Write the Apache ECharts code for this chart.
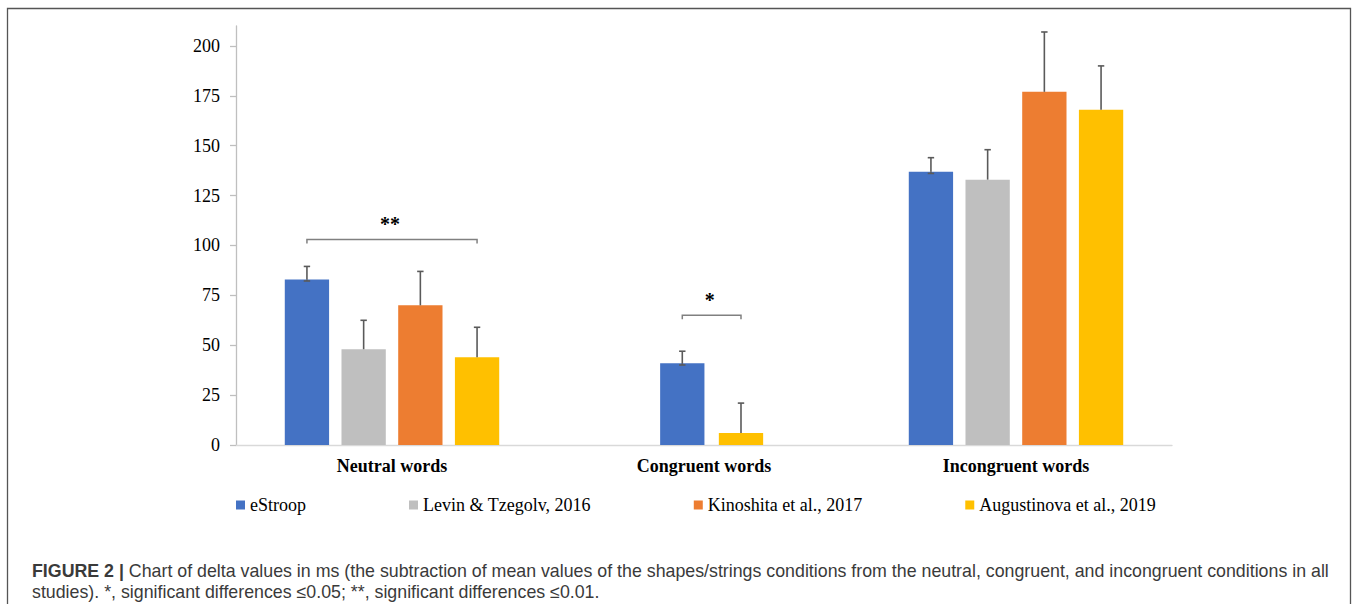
<!DOCTYPE html>
<html>
<head>
<meta charset="utf-8">
<title>Delta values by condition</title>
<script src="https://cdn.jsdelivr.net/npm/echarts@6/dist/echarts.min.js"></script>
<style>
  html, body { margin: 0; padding: 0; background: #ffffff; }
  #chart { width: 1358px; height: 604px; }
</style>
</head>
<body>
<div id="chart"></div>
<script>
// Conditions on the x axis
const categories = ['Neutral words', 'Congruent words', 'Incongruent words'];
// Studies (one series each)
const studies = ['eStroop', 'Levin & Tzegolv, 2016', 'Kinoshita et al., 2017', 'Augustinova et al., 2019'];

// Delta values in ms (null = condition not reported)
const eStroop     = [83, 41, 137];
const levin       = [48, null, 133];
const kinoshita   = [70, null, 177];
const augustinova = [44, 6, 168];

// Upper error bars
const eStroopErr     = [6.5, 6, 7];
const levinErr       = [14.5, null, 15];
const kinoshitaErr   = [17, null, 30];
const augustinovaErr = [15, 15, 22];

// Lower error bars (only the eStroop bars show one)
const eStroopErrLow = [0.8, 0.9, 0.9];

// Value axis
const yTicks = [0, 25, 50, 75, 100, 125, 150, 175, 200];
const yMax = 210;

// Significance brackets: condition index, first/last study, height (ms), label
const sigCategory = [0, 1];
const sigFrom     = [0, 0];
const sigTo       = [3, 3];
const sigLevel    = [103, 65];
const sigLabel    = ['**', '*'];

const captionLine1 = 'Chart of delta values in ms (the subtraction of mean values of the shapes/strings conditions from the neutral, congruent, and incongruent conditions in all';
const captionLine2 = 'studies). *, significant differences \u22640.05; **, significant differences \u22640.01.';

const values  = [eStroop, levin, kinoshita, augustinova];
const errHigh = [eStroopErr, levinErr, kinoshitaErr, augustinovaErr];
const errLow  = [eStroopErrLow, null, null, null];
const colors  = ['#4472C4', '#BFBFBF', '#ED7D31', '#FFC000'];

const SERIF = "'Liberation Serif', 'Times New Roman', serif";
const SANS = "'Liberation Sans', Arial, Helvetica, sans-serif";
const ERR_COLOR = '#5a5a5a';
const CAPTION_FONT = 17.8;

// Horizontal placement of a study's bar inside a condition band.
// Bars of the studies that report the condition are packed side by side.
function slot(api, cat, s) {
  const present = [];
  values.forEach((v, i) => { if (v[cat] != null) present.push(i); });
  const n = present.length;
  const band = api.size([1, 0])[0];
  const barW = band * 0.142;
  let step = barW * 1.28;
  let shift = 0;
  if (n < values.length) { step = barW * 1.325; shift = band * 0.0245; }
  const k = present.indexOf(s);
  const cx = api.coord([cat, 0])[0];
  return { x: cx + (k - (n - 1) / 2) * step + shift, w: barW };
}

function barSeries(s) {
  const data = [];
  categories.forEach((c, i) => {
    const v = values[s][i];
    if (v == null) return;
    const eh = errHigh[s][i] || 0;
    const el = errLow[s] ? (errLow[s][i] || 0) : 0;
    data.push([i, v, eh, el]);
  });
  return {
    type: 'custom',
    name: studies[s],
    coordinateSystem: 'cartesian2d',
    itemStyle: { color: colors[s] },
    encode: { x: 0, y: 1 },
    data: data,
    z: 2,
    renderItem: function (params, api) {
      const cat = api.value(0);
      const v = api.value(1);
      const eh = api.value(2);
      const el = api.value(3);
      const p = slot(api, cat, s);
      const top = api.coord([cat, v])[1];
      const base = api.coord([cat, 0])[1];
      const children = [{
        type: 'rect',
        shape: { x: p.x - p.w / 2, y: top, width: p.w, height: base - top },
        style: { fill: colors[s] }
      }];
      const errStyle = { stroke: ERR_COLOR, lineWidth: 1.6 };
      if (eh > 0) {
        const hi = api.coord([cat, v + eh])[1];
        children.push({ type: 'line', shape: { x1: p.x, y1: top, x2: p.x, y2: hi }, style: errStyle });
        children.push({ type: 'line', shape: { x1: p.x - 3.2, y1: hi, x2: p.x + 3.2, y2: hi }, style: errStyle });
      }
      if (el > 0) {
        const lo = api.coord([cat, v - el])[1];
        children.push({ type: 'line', shape: { x1: p.x, y1: top, x2: p.x, y2: lo }, style: errStyle });
        children.push({ type: 'line', shape: { x1: p.x - 3.2, y1: lo, x2: p.x + 3.2, y2: lo }, style: errStyle });
      }
      return { type: 'group', children: children };
    }
  };
}

const bracketSeries = {
  type: 'custom',
  name: 'significance',
  coordinateSystem: 'cartesian2d',
  encode: { x: 0, y: 1 },
  data: sigCategory.map((c, j) => [c, sigLevel[j], sigFrom[j], sigTo[j], j]),
  z: 3,
  silent: true,
  renderItem: function (params, api) {
    const cat = api.value(0);
    const level = api.value(1);
    const a = slot(api, cat, api.value(2)).x;
    const b = slot(api, cat, api.value(3)).x;
    const y = api.coord([cat, level])[1];
    const label = sigLabel[api.value(4)];
    return {
      type: 'group',
      children: [
        {
          type: 'polyline',
          shape: { points: [[a, y + 4], [a, y], [b, y], [b, y + 4]] },
          style: { stroke: '#808080', lineWidth: 1.5, fill: null }
        },
        {
          type: 'text',
          style: {
            x: (a + b) / 2 - 2, y: y - 15,
            text: label,
            fill: '#000',
            font: 'bold 20px ' + SERIF,
            align: 'center',
            verticalAlign: 'middle'
          }
        }
      ]
    };
  }
};

const chart = echarts.init(document.getElementById('chart'), null, { renderer: 'svg' });

chart.setOption({
  animation: false,
  backgroundColor: '#ffffff',
  color: colors,
  grid: { left: 236, right: 186, top: 26, bottom: 159, containLabel: false },
  legend: {
    data: studies,
    left: 236,
    top: 496,
    padding: 0,
    icon: 'rect',
    itemWidth: 9,
    itemHeight: 9,
    itemGap: 103,
    selectedMode: false,
    textStyle: { fontFamily: SERIF, fontSize: 18, color: '#000' }
  },
  xAxis: {
    type: 'category',
    data: categories,
    axisLine: { show: true, lineStyle: { color: '#d9d9d9', width: 1.3 } },
    axisTick: { show: false },
    axisLabel: {
      margin: 12,
      fontFamily: SERIF,
      fontWeight: 'bold',
      fontSize: 18,
      color: '#000'
    },
    splitLine: { show: false }
  },
  yAxis: {
    type: 'value',
    min: 0,
    max: yMax,
    interval: 25,
    axisLine: { show: true, lineStyle: { color: '#bfbfbf', width: 1.3 } },
    axisTick: { show: true, length: 6, customValues: yTicks, lineStyle: { color: '#bfbfbf', width: 1.3 } },
    axisLabel: {
      customValues: yTicks,
      margin: 16,
      fontFamily: SERIF,
      fontSize: 18,
      color: '#000'
    },
    splitLine: { show: false }
  },
  graphic: [
    {
      type: 'rect',
      silent: true,
      shape: { x: 7.5, y: 8.5, width: 1343, height: 700 },
      style: { fill: null, stroke: '#555555', lineWidth: 1.3 }
    },
    {
      type: 'text',
      left: 32,
      top: 562,
      silent: true,
      style: {
        text: '{b|FIGURE 2 |} ' + captionLine1,
        font: CAPTION_FONT + 'px ' + SANS,
        fill: '#3a3a3a',
        rich: {
          b: { font: 'bold ' + CAPTION_FONT + 'px ' + SANS, fill: '#3a3a3a' }
        }
      }
    },
    {
      type: 'text',
      left: 32,
      top: 583,
      silent: true,
      style: {
        text: captionLine2,
        font: CAPTION_FONT + 'px ' + SANS,
        fill: '#3a3a3a'
      }
    }
  ],
  series: [barSeries(0), barSeries(1), barSeries(2), barSeries(3), bracketSeries]
});
</script>
</body>
</html>
